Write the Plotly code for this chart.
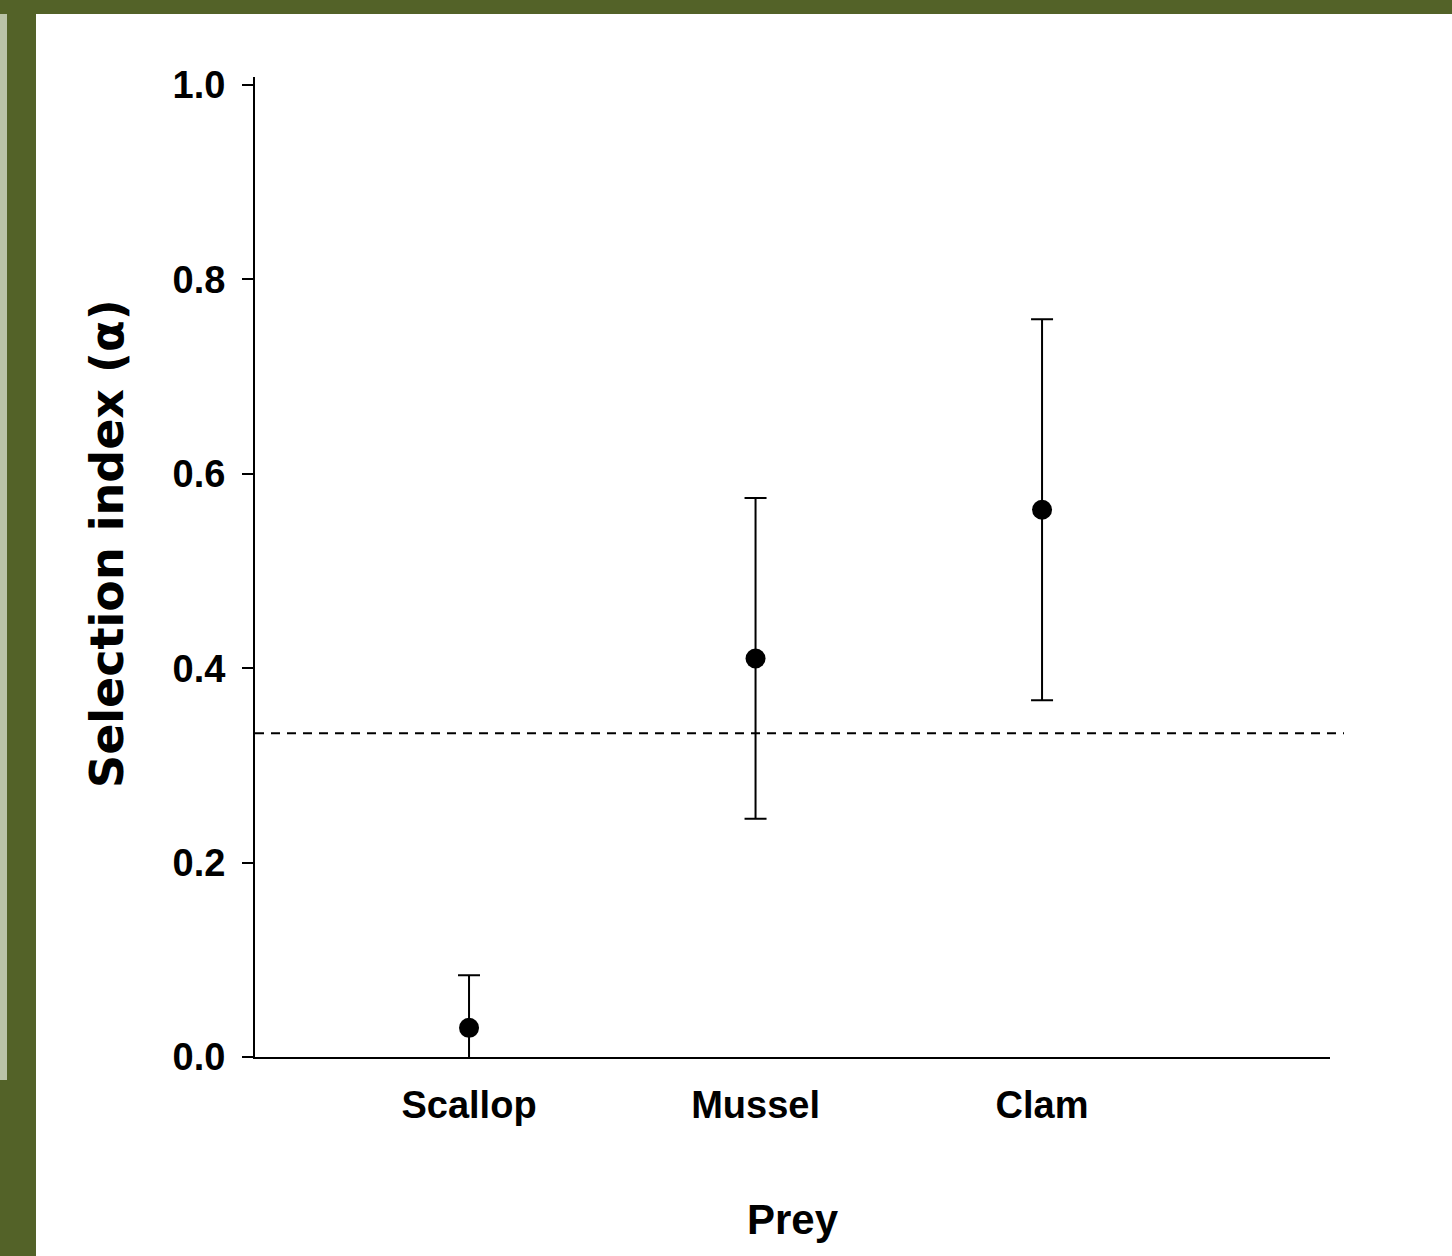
import plotly.graph_objects as go

# ---- data ----
categories = ["Scallop", "Mussel", "Clam"]
alpha_mean = [0.030, 0.410, 0.563]
alpha_err = [0.054, 0.165, 0.196]
ref_line = 0.333
y_ticks = [0.0, 0.2, 0.4, 0.6, 0.8, 1.0]
y_ticktext = ["0.0", "0.2", "0.4", "0.6", "0.8", "1.0"]

W, H = 1452, 1256
L, R, T, B = 255, 122, 77, 199
PW, PH = W - L - R, H - T - B

def px(x):
    return (x - L) / PW

def py(y):
    return (H - B - y) / PH

GREEN = "#536228"
LIGHT = "#bac3a8"
sans = "Liberation Sans, Arial, Helvetica, sans-serif"

fig = go.Figure()
fig.add_trace(go.Scatter(
    x=categories, y=alpha_mean, mode="markers",
    marker=dict(color="black", size=20, symbol="circle"),
    error_y=dict(type="data", array=alpha_err, visible=True,
                 color="black", thickness=2, width=11),
    showlegend=False,
))

shapes = [
    # reference line
    dict(type="line", xref="paper", yref="y", x0=0, x1=px(1344),
         y0=ref_line, y1=ref_line, line=dict(color="black", width=2, dash="9px,7px")),
    # frame decorations
    dict(type="rect", xref="paper", yref="paper", x0=px(0), x1=px(W), y0=py(0), y1=py(14),
         fillcolor=GREEN, line=dict(width=0), layer="above"),
    dict(type="rect", xref="paper", yref="paper", x0=px(0), x1=px(36), y0=py(0), y1=py(H),
         fillcolor=GREEN, line=dict(width=0), layer="above"),
    dict(type="rect", xref="paper", yref="paper", x0=px(0), x1=px(7), y0=py(14), y1=py(1080),
         fillcolor=LIGHT, line=dict(width=0), layer="above"),
]

fig.update_layout(
    width=W, height=H,
    margin=dict(l=L, r=R, t=T, b=B, pad=0),
    paper_bgcolor="white", plot_bgcolor="white",
    shapes=shapes,
    xaxis=dict(
        type="category", range=[-0.747, 3.005],
        showline=True, linecolor="black", linewidth=2,
        ticks="", showgrid=False, zeroline=False,
        tickfont=dict(family=sans, size=38, color="black", weight="bold"),
        ticklabelstandoff=13,
        title=dict(text="Prey", standoff=80,
                   font=dict(family=sans, size=42, color="black", weight="bold")),
    ),
    yaxis=dict(
        range=[0, 1.0082],
        tickvals=y_ticks, ticktext=y_ticktext,
        showline=True, linecolor="black", linewidth=2,
        ticks="outside", ticklen=11, tickwidth=2, tickcolor="black",
        showgrid=False, zeroline=False,
        tickfont=dict(family=sans, size=38, color="black", weight="bold"),
        ticklabelstandoff=9,
    ),
    annotations=[dict(
        text="Selection index (α)", xref="paper", yref="paper",
        x=px(107), y=py(544), textangle=-90, showarrow=False,
        xanchor="center", yanchor="middle",
        font=dict(family="DejaVu Sans, sans-serif", size=46, color="black", weight="bold"),
    )],
)

fig.write_html("out.html", config={"displayModeBar": False},
               post_script="document.body.style.margin='0';document.body.style.padding='0';")
